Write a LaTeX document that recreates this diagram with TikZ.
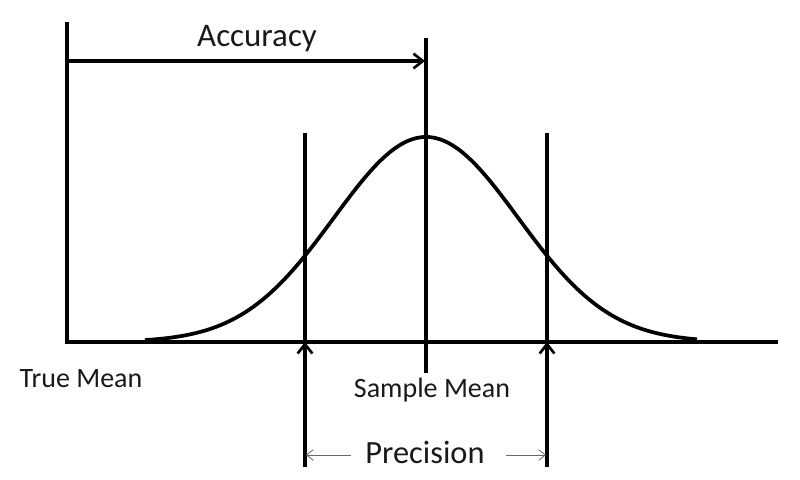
\documentclass[tikz,border=0pt]{standalone}
\usepackage{fontspec}
\setmainfont{Carlito}
\usetikzlibrary{arrows.meta}
\begin{document}
\begin{tikzpicture}[x=0.75pt,y=-0.75pt,
  thick line/.style={line width=2.7pt, black},
  barb/.style={-{Straight Barb[length=7pt,width=11pt,line width=2pt]}},
  thinbarb/.style={-{Straight Barb[length=5pt,width=8pt,line width=0.6pt]}, line width=0.7pt, gray!80!black},
  lbl/.style={inner sep=0pt, text=black!90}]
\useasboundingbox (0,0) rectangle (800,479);
% coordinates
\coordinate (axtop) at (67,22);
\coordinate (origin) at (67,342);
\coordinate (axend) at (778,342);
\coordinate (acc) at (67,61);
\coordinate (acctip) at (425,61);
\coordinate (smtop) at (426,38);
\coordinate (smbot) at (426,373);
\coordinate (ltop) at (305,133);
\coordinate (lax) at (305,342);
\coordinate (lbot) at (305,467);
\coordinate (rtop) at (547,133);
\coordinate (rax) at (547,342);
\coordinate (rbot) at (547,467);
\coordinate (pl) at (351,455);
\coordinate (plt) at (306,455);
\coordinate (pr) at (506,455);
\coordinate (prt) at (546,455);
% axes
\draw[thick line] (axtop) -- (origin) -- (axend);
% curve
\draw[thick line, line width=2.8pt] plot[domain=145:697, samples=160, smooth] (\x, {342-205*exp(-((\x-426)/92)^2/2)});
% sample mean line
\draw[thick line] (smtop) -- (smbot);
% precision lines
\draw[thick line] (ltop) -- (lax);
\draw[thick line, barb] (lbot) -- (lax);
\draw[thick line] (rtop) -- (rax);
\draw[thick line, barb] (rbot) -- (rax);
% accuracy arrow
\draw[thick line, line width=2.3pt, barb] (acc) -- (acctip);
% precision thin arrows
\draw[thinbarb] (pl) -- (plt);
\draw[thinbarb] (pr) -- (prt);
% labels
\node[lbl, font=\fontsize{24.7}{28}\selectfont] (accl) at (257,39) {Accuracy};
\node[lbl, font=\fontsize{21}{25}\selectfont] (truel) at (81,379) {True Mean};
\node[lbl, font=\fontsize{21}{25}\selectfont] (sml) at (432,390) {Sample Mean};
\node[lbl, font=\fontsize{24.3}{28}\selectfont] (precl) at (425,452) {Precision};
\end{tikzpicture}
\end{document}
